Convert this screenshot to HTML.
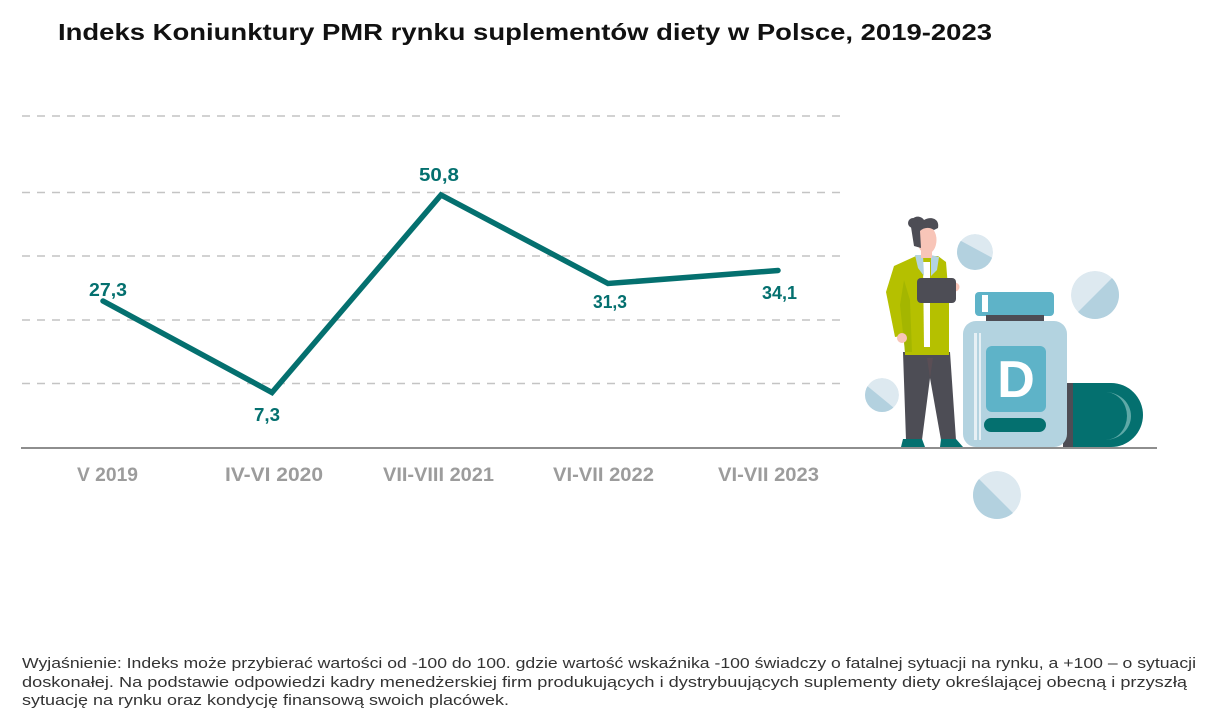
<!DOCTYPE html>
<html><head><meta charset="utf-8"><style>
html,body{margin:0;padding:0;background:#fff;}
svg{display:block;}
</style></head><body>
<svg width="1208" height="719" viewBox="0 0 1208 719" xmlns="http://www.w3.org/2000/svg" font-family="'Liberation Sans', sans-serif">
<rect width="1208" height="719" fill="#fff"/>
<text x="58" y="40" font-size="23.5" font-weight="bold" fill="#111" textLength="934" lengthAdjust="spacingAndGlyphs">Indeks Koniunktury PMR rynku suplementów diety w Polsce, 2019-2023</text>

<g stroke="#c4c4c4" stroke-width="1.6" stroke-dasharray="8 7">
<line x1="22" y1="116" x2="843" y2="116"/>
<line x1="22" y1="192.5" x2="843" y2="192.5"/>
<line x1="22" y1="256" x2="843" y2="256"/>
<line x1="22" y1="320" x2="843" y2="320"/>
<line x1="22" y1="383.5" x2="843" y2="383.5"/>
</g>
<line x1="21" y1="448" x2="1157" y2="448" stroke="#8e8e8e" stroke-width="2"/>

<polyline points="103,301 272,392.5 441,195 608,283.5 778,270.5" fill="none" stroke="#04706f" stroke-width="5.5" stroke-linejoin="miter" stroke-linecap="round"/>

<g font-weight="bold" fill="#04706f" font-size="18">
<text x="89" y="296" textLength="38" lengthAdjust="spacingAndGlyphs">27,3</text>
<text x="254" y="421" textLength="26" lengthAdjust="spacingAndGlyphs">7,3</text>
<text x="419" y="181" textLength="40" lengthAdjust="spacingAndGlyphs">50,8</text>
<text x="593" y="308" textLength="34" lengthAdjust="spacingAndGlyphs">31,3</text>
<text x="762" y="299" textLength="35" lengthAdjust="spacingAndGlyphs">34,1</text>
</g>

<g font-weight="bold" fill="#9c9c9c" font-size="19">
<text x="77" y="481" textLength="61" lengthAdjust="spacingAndGlyphs">V 2019</text>
<text x="225" y="481" textLength="98" lengthAdjust="spacingAndGlyphs">IV-VI 2020</text>
<text x="383" y="481" textLength="111" lengthAdjust="spacingAndGlyphs">VII-VIII 2021</text>
<text x="553" y="481" textLength="101" lengthAdjust="spacingAndGlyphs">VI-VII 2022</text>
<text x="718" y="481" textLength="101" lengthAdjust="spacingAndGlyphs">VI-VII 2023</text>
</g>

<!-- pills -->
<defs>
<clipPath id="p1"><circle cx="975" cy="252" r="18"/></clipPath>
<clipPath id="p2"><circle cx="1095" cy="295" r="24"/></clipPath>
<clipPath id="p3"><circle cx="882" cy="395" r="17"/></clipPath>
<clipPath id="p4"><circle cx="997" cy="495" r="24"/></clipPath>
</defs>
<g clip-path="url(#p1)"><circle cx="975" cy="252" r="18" fill="#dde9f0"/><polygon points="950,235 1000,262 1000,280 950,280" fill="#b3d1df"/></g>
<g clip-path="url(#p2)"><circle cx="1095" cy="295" r="24" fill="#dde9f0"/><polygon points="1060,330 1125,265 1125,330" fill="#b3d1df"/></g>
<g clip-path="url(#p3)"><circle cx="882" cy="395" r="17" fill="#dde9f0"/><polygon points="860,380 905,417 860,417" fill="#b3d1df"/></g>
<g clip-path="url(#p4)"><circle cx="997" cy="495" r="24" fill="#dde9f0"/><polygon points="965,465 1025,525 965,525" fill="#b3d1df"/></g>

<!-- capsule -->
<rect x="1063" y="383" width="14" height="64" fill="#4d4d55"/>
<path d="M1073,383 H1111 A32,32 0 0 1 1111,447 H1073 Z" fill="#04706f"/>
<path d="M1105,392 A26,24 0 0 1 1105,440 A22,24 0 0 0 1105,392 Z" fill="#5fa9a7"/>

<!-- bottle -->
<rect x="975" y="292" width="79" height="24" rx="4" fill="#5eb3c8"/>
<rect x="982" y="295" width="6" height="17" fill="#fff"/>
<rect x="986" y="315" width="58" height="7" fill="#4d4d55"/>
<rect x="963" y="321" width="104" height="126" rx="13" fill="#b3d3e0"/>
<rect x="974" y="333" width="3" height="107" fill="#e6f0f5"/>
<rect x="979" y="333" width="2" height="107" fill="#e6f0f5"/>
<rect x="986" y="346" width="60" height="66" rx="6" fill="#5eb3c8"/>
<text x="1016" y="397" font-size="52" font-weight="bold" fill="#fff" text-anchor="middle">D</text>
<rect x="984" y="418" width="62" height="14" rx="7" fill="#04706f"/>

<!-- woman -->
<!-- pants -->
<path d="M903,352 L950,352 L956,440 L941,440 L930,378 L922,440 L906,440 Z" fill="#4d4d55"/>
<path d="M927,358 L933,358 L930,378 Z" fill="#5a4e55"/>
<!-- shoes -->
<path d="M903,439 L922,439 L925,447 L901,447 Z" fill="#04706f"/>
<path d="M941,439 L956,439 L963,447 L940,447 Z" fill="#04706f"/>
<!-- coat body -->
<path d="M894,266 L916,256 L938,256 L946,262 L949,300 L949,355 L905,355 L903,300 Z" fill="#b5c000"/>
<!-- left sleeve -->
<path d="M894,266 L886,292 L895,337 L907,335 L906,300 L904,272 Z" fill="#b5c000"/>
<path d="M904,280 L900,305 L905,352 L912,352 L910,300 Z" fill="#a4b600"/>
<!-- shirt & collar -->
<path d="M923,262 L930,262 L930,347 L924,347 Z" fill="#fff"/>
<path d="M915,255 L923,255 L924,276 L918,268 Z" fill="#b3d3e0"/>
<path d="M931,255 L939,257 L937,270 L931,276 Z" fill="#b3d3e0"/>
<!-- hands -->
<circle cx="902" cy="338" r="5" fill="#f8c5b8"/>
<circle cx="955" cy="287" r="4.5" fill="#f8c5b8"/>
<!-- tablet -->
<rect x="917" y="278" width="39" height="25" rx="4" fill="#4d4d55"/>
<!-- neck & head -->
<rect x="921" y="245" width="11" height="13" fill="#f8c5b8"/>
<ellipse cx="927" cy="240" rx="9.5" ry="14" fill="#f8c5b8"/>
<path d="M911,227 C909,216 920,214 924,220 C930,216 940,218 938,228 L934,230 C930,227 924,227 920,231 L921,248 L914,246 Z" fill="#4d4d55"/>
<circle cx="913" cy="223" r="5" fill="#4d4d55"/>

<!-- footnote -->
<g font-size="14.5" fill="#333">
<text x="22" y="668" textLength="1174" lengthAdjust="spacingAndGlyphs">Wyjaśnienie: Indeks może przybierać wartości od -100 do 100. gdzie wartość wskaźnika -100 świadczy o fatalnej sytuacji na rynku, a +100 – o sytuacji</text>
<text x="22" y="687" textLength="1165" lengthAdjust="spacingAndGlyphs">doskonałej. Na podstawie odpowiedzi kadry menedżerskiej firm produkujących i dystrybuujących suplementy diety określającej obecną i przyszłą</text>
<text x="22" y="705" textLength="487" lengthAdjust="spacingAndGlyphs">sytuację na rynku oraz kondycję finansową swoich placówek.</text>
</g>
</svg>
</body></html>
